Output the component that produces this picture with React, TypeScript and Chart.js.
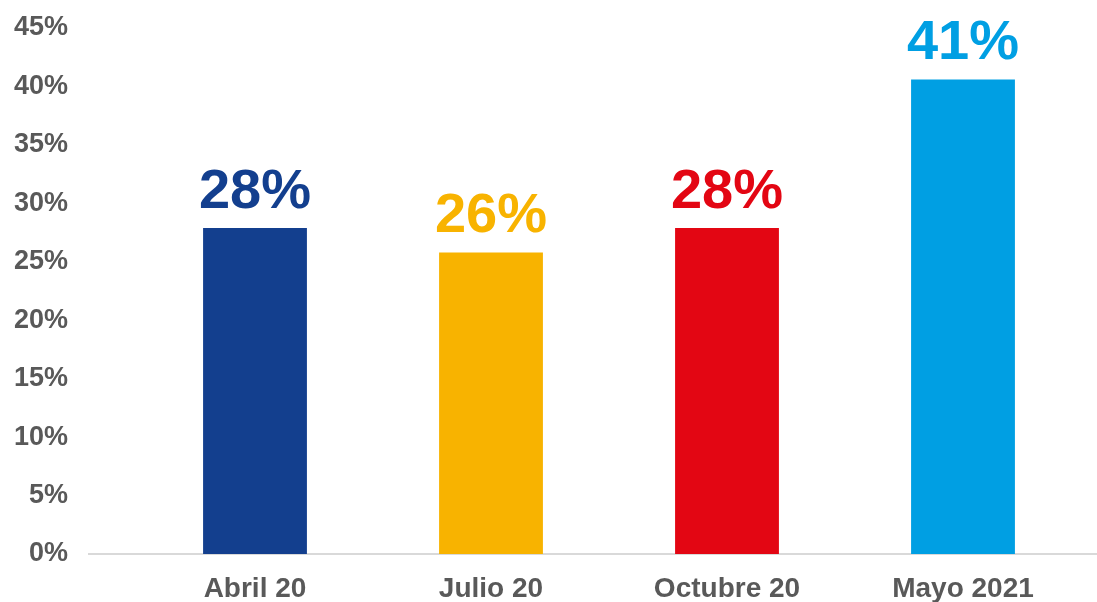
import React, { useEffect, useRef } from "react";
import { Chart, registerables } from "chart.js";

Chart.register(...registerables);

const categories = ["Abril 20", "Julio 20", "Octubre 20", "Mayo 2021"];
const values = [27.9, 25.8, 27.9, 40.6];
const valueLabels = ["28%", "26%", "28%", "41%"];
const barColors = ["#133F8E", "#F8B300", "#E30613", "#009FE3"];
const yMax = 45;
const yStep = 5;

const baselinePlugin = {
  id: "baseline",
  beforeDatasetsDraw(chart: any) {
    const { ctx, chartArea, scales } = chart;
    const y = scales.y.getPixelForValue(0);
    ctx.save();
    ctx.strokeStyle = "#D9D9D9";
    ctx.lineWidth = 2;
    ctx.beginPath();
    ctx.moveTo(chartArea.left - 49, y);
    ctx.lineTo(chart.width, y);
    ctx.stroke();
    ctx.restore();
  },
};

const valueLabelPlugin = {
  id: "valueLabels",
  afterDatasetsDraw(chart: any) {
    const { ctx } = chart;
    const meta = chart.getDatasetMeta(0);
    ctx.save();
    ctx.font = "bold 56px 'Liberation Sans', Arial, sans-serif";
    ctx.textAlign = "center";
    ctx.textBaseline = "alphabetic";
    meta.data.forEach((bar: any, i: number) => {
      ctx.fillStyle = barColors[i];
      ctx.fillText(valueLabels[i], bar.x, bar.y - 20);
    });
    ctx.restore();
  },
};

export default function App() {
  const ref = useRef<HTMLCanvasElement>(null);
  useEffect(() => {
    if (!ref.current) return;
    const chart = new Chart(ref.current, {
      type: "bar",
      data: {
        labels: categories,
        datasets: [
          {
            data: values,
            backgroundColor: barColors,
            borderWidth: 0,
            categoryPercentage: 1,
            barPercentage: 0.44,
          },
        ],
      },
      options: {
        animation: false,
        responsive: true,
        maintainAspectRatio: false,
        layout: { padding: { top: 28, right: 16, bottom: 0, left: 0 } },
        plugins: {
          legend: { display: false },
          tooltip: { enabled: false },
        },
        scales: {
          x: {
            grid: { display: false },
            border: { display: false },
            ticks: {
              color: "#595959",
              padding: 10,
              maxRotation: 0,
              font: { family: "'Liberation Sans', Arial, sans-serif", size: 28, weight: "bold" },
            },
            afterFit(scale: any) {
              scale.height = 48;
            },
          },
          y: {
            min: 0,
            max: yMax,
            grid: { display: false },
            border: { display: false },
            ticks: {
              stepSize: yStep,
              color: "#595959",
              padding: 61,
              font: { family: "'Liberation Sans', Arial, sans-serif", size: 27, weight: "bold" },
              callback: (v: any) => v + "%",
            },
            afterFit(scale: any) {
              scale.width = 137;
              scale.paddingTop = 16;
              scale.paddingBottom = 16;
            },
          },
        },
      },
      plugins: [baselinePlugin, valueLabelPlugin],
    });
    return () => chart.destroy();
  }, []);
  return (
    <div style={{ position: "fixed", left: 0, top: 0, width: 1097, height: 602, background: "#fff" }}>
      <canvas ref={ref} />
    </div>
  );
}
